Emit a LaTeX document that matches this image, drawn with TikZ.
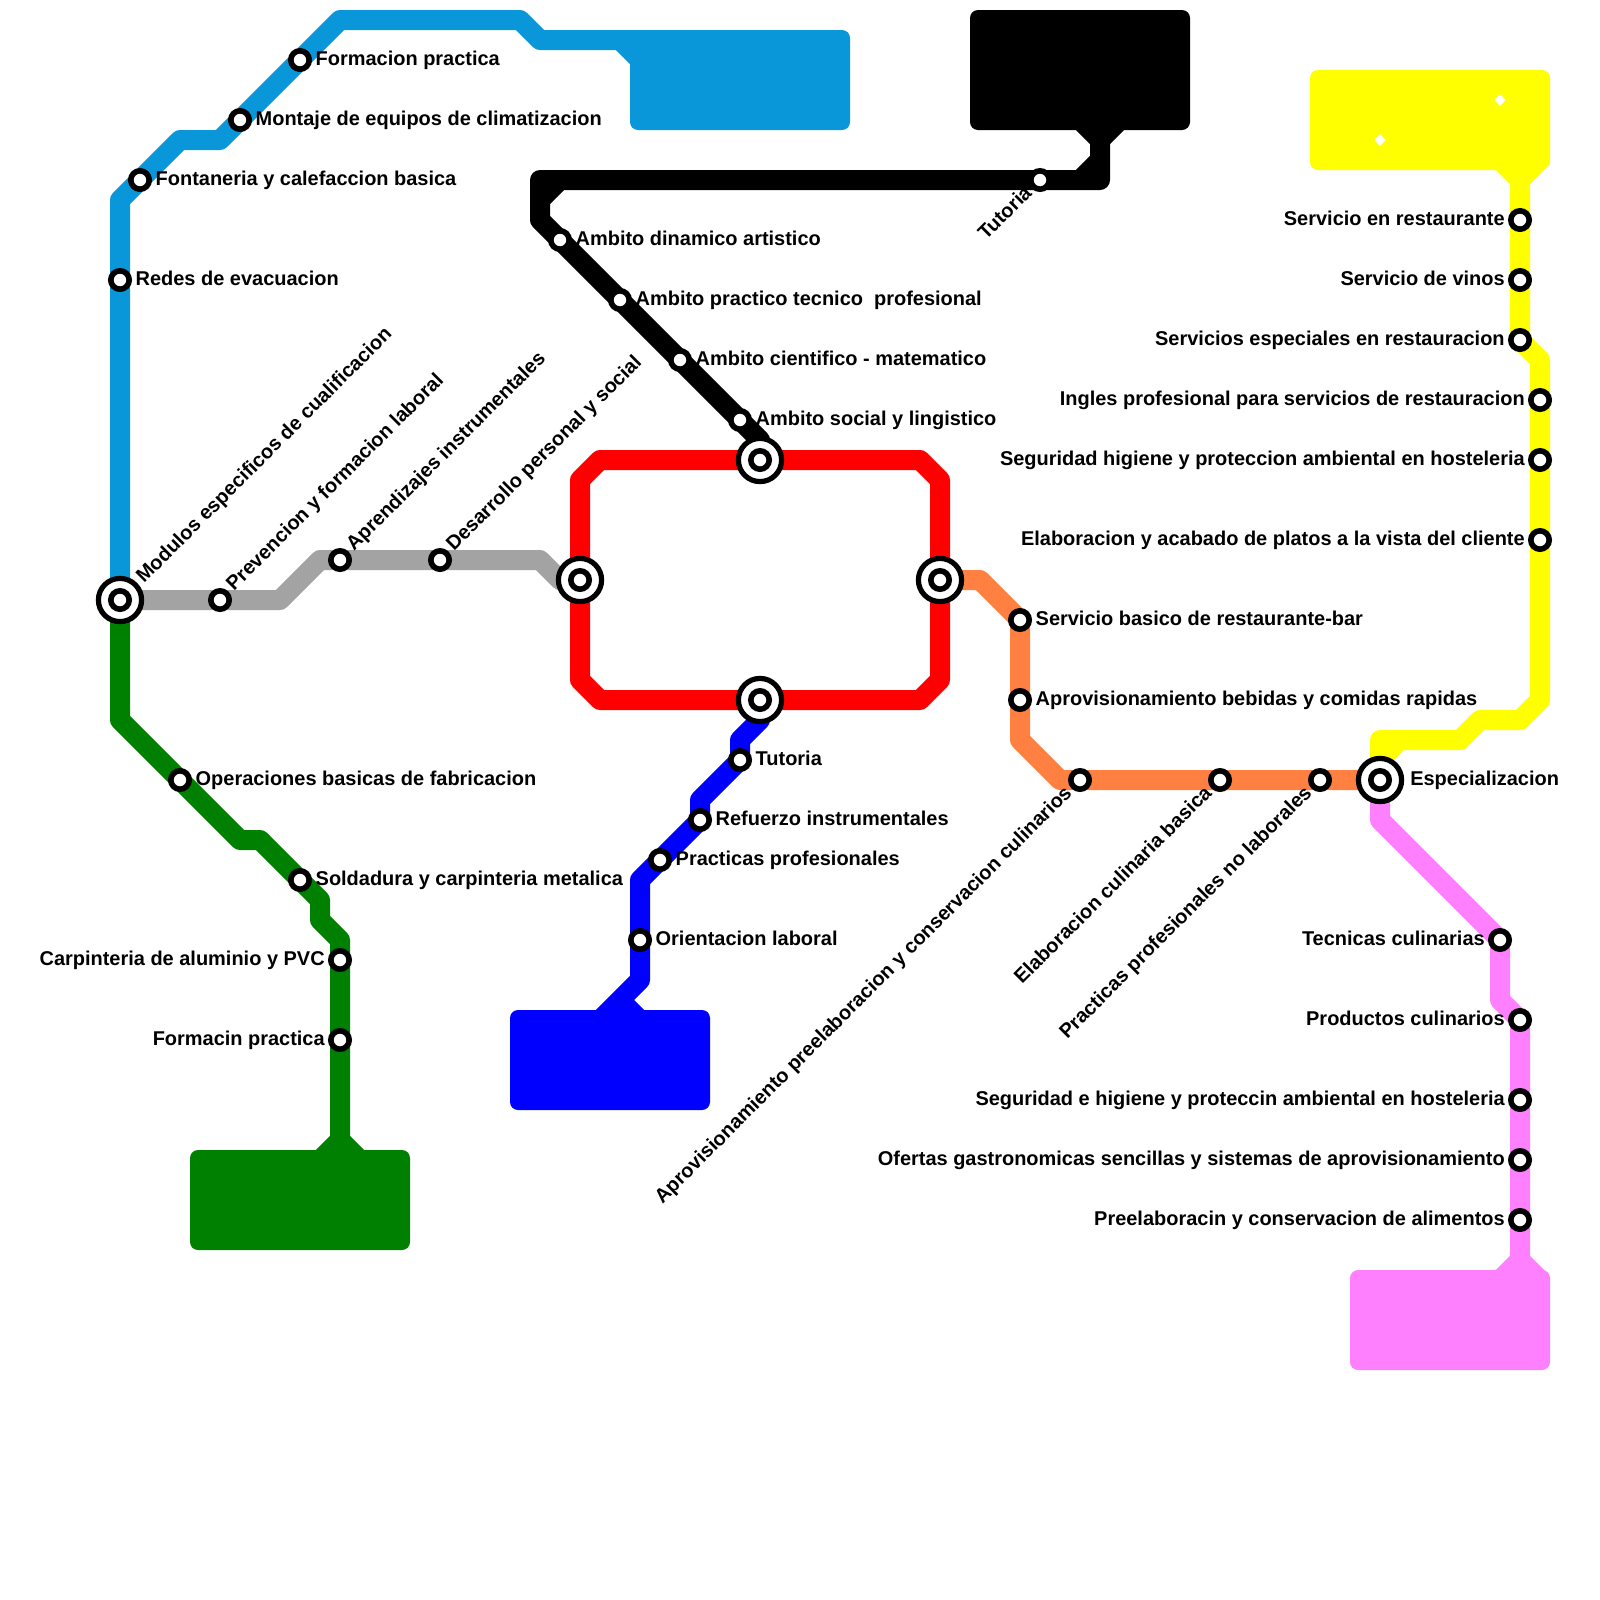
\documentclass[tikz,border=0pt]{standalone}
\usepackage{fontspec}
\setmainfont{Liberation Sans}
\usetikzlibrary{backgrounds}
\definecolor{railcyan}{HTML}{0A97D9}
\definecolor{railgreen}{HTML}{008000}
\definecolor{railgray}{HTML}{A3A3A3}
\definecolor{railorange}{HTML}{FF8040}
\definecolor{railpink}{HTML}{FF80FF}
\definecolor{railyellow}{RGB}{255,255,0}
\begin{document}
\begin{tikzpicture}[x=0.5cm,y=-0.5cm,
  rail/.style={line width=0.5cm, line join=round},
  terminus/.style={rectangle, rounded corners=0.2cm, inner sep=0pt, outer sep=0pt},
  stn/.style={circle, draw=black, fill=white, line width=0.14cm, minimum size=0.46cm, inner sep=0pt, outer sep=0pt},
  hub/.style={circle, draw=black, fill=white, line width=0.13cm, minimum size=1.08cm, inner sep=0pt, outer sep=0pt},
  stnlabel/.style={font=\fontsize{14.2pt}{16pt}\selectfont\bfseries, inner sep=0pt}]
  \useasboundingbox (0,0) rectangle (80,80);
  % enlaces
  \foreach \nm/\x/\y in {modulos/6/30, norte/38/23, oeste/29/29, este/47/29, sur/38/35, espec/69/39} {
    \node[hub] (\nm) at (\x,\y) {};
    \node[stn] (\nm-in) at (\nm.center) {};
  }
  % estaciones con texto a la derecha
  \foreach \nm/\x/\y/\txt in {
    redes/6/14/Redes de evacuacion,
    fontaneria/7/9/Fontaneria y calefaccion basica,
    montaje/12/6/Montaje de equipos de climatizacion,
    formacion/15/3/Formacion practica,
    dinamico/28/12/Ambito dinamico artistico,
    tecnico/31/15/Ambito practico tecnico~ profesional,
    cientifico/34/18/Ambito cientifico - matematico,
    social/37/21/Ambito social y lingistico,
    tutoriasur/37/38/Tutoria,
    refuerzo/35/41/Refuerzo instrumentales,
    practicas/33/43/Practicas profesionales,
    orientacion/32/47/Orientacion laboral,
    operaciones/9/39/Operaciones basicas de fabricacion,
    soldadura/15/44/Soldadura y carpinteria metalica,
    basico/51/31/Servicio basico de restaurante-bar,
    rapidas/51/35/Aprovisionamiento bebidas y comidas rapidas} {
    \node[stn] (\nm) at (\x,\y) {};
    \node[stnlabel, anchor=base west] (\nm-txt) at (\x+.77,\y+.25) {\txt};
  }
  % estaciones con texto a la izquierda
  \foreach \nm/\x/\y/\txt in {
    carpinteria/17/48/Carpinteria de aluminio y PVC,
    formacin/17/52/Formacin practica,
    restaurante/76/11/Servicio en restaurante,
    vinos/76/14/Servicio de vinos,
    especiales/76/17/Servicios especiales en restauracion,
    ingles/77/20/Ingles profesional para servicios de restauracion,
    seguridad/77/23/Seguridad higiene y proteccion ambiental en hosteleria,
    platos/77/27/Elaboracion y acabado de platos a la vista del cliente,
    tecnicas/75/47/Tecnicas culinarias,
    productos/76/51/Productos culinarios,
    higiene/76/55/Seguridad e higiene y proteccin ambiental en hosteleria,
    ofertas/76/58/Ofertas gastronomicas sencillas y sistemas de aprovisionamiento,
    preelab/76/61/Preelaboracin y conservacion de alimentos} {
    \node[stn] (\nm) at (\x,\y) {};
    \node[stnlabel, anchor=base east] (\nm-txt) at (\x-.75,\y+.25) {\txt};
  }
  % texto inclinado hacia arriba
  \foreach \nm/\x/\y/\txt in {
    prevencion/11/30/Prevencion y formacion laboral,
    aprendizajes/17/28/Aprendizajes instrumentales,
    desarrollo/22/28/Desarrollo personal y social} {
    \node[stn] (\nm) at (\x,\y) {};
    \node[stnlabel, anchor=base west, rotate=45] (\nm-txt) at (\x+.7,\y-.4) {\txt};
  }
  \node[stnlabel, anchor=base west, rotate=45] (modulos-txt) at (7.2,29.2) {Modulos especificos de cualificacion};
  % texto inclinado hacia abajo
  \foreach \nm/\x/\y/\txt in {
    tutorianorte/52/9/Tutoria,
    preelaboracion/54/39/Aprovisionamiento preelaboracion y conservacion culinarios,
    culinaria/61/39/Elaboracion culinaria basica,
    nolaborales/66/39/Practicas profesionales no laborales} {
    \node[stn] (\nm) at (\x,\y) {};
    \node[stnlabel, anchor=base east, rotate=45] (\nm-txt) at (\x-.35,\y+.7) {\txt};
  }
  \node[stnlabel, anchor=base west] (espec-txt) at (70.5,39.25) {Especializacion};
  % cabeceras
  \node[terminus, fill=railcyan, minimum width=5.5cm, minimum height=2.5cm] (cabcyan) at (37,4) {};
  \node[terminus, fill=black, minimum width=5.5cm, minimum height=3cm] (cabnegra) at (54,3.5) {};
  \node[terminus, fill=blue, minimum width=5cm, minimum height=2.5cm] (cabazul) at (30.5,53) {};
  \node[terminus, fill=railgreen, minimum width=5.5cm, minimum height=2.5cm] (cabverde) at (15,60) {};
  \node[terminus, fill=railpink, minimum width=5cm, minimum height=2.5cm] (cabrosa) at (72.5,66) {};
  \node[terminus, fill=railyellow, minimum width=6cm, minimum height=2.5cm] (cabamarilla) at (71.5,6) {};
  \fill[white] (77.6,8.1) -- (77.6,8.6) -- (77.1,8.6) -- cycle;
  \fill[white] (75,4.7) -- (75.28,5) -- (75,5.3) -- (74.72,5) -- cycle;
  \fill[white] (69,6.7) -- (69.28,7) -- (69,7.3) -- (68.72,7) -- cycle;
  % lineas
  \begin{scope}[on background layer]
    \draw[rail, railcyan] (modulos.center) -- (6,10) -- (9,7) -- (11,7) -- (17,1) -- (26,1) -- (27,2) -- (32,2);
    \draw[rail, railcyan] (31,2) -- (32,3);
    \draw[rail, railgray] (modulos.center) -- (14,30) -- (16,28) -- (27,28) -- (28,29) -- (oeste.center);
    \draw[rail, railgreen] (modulos.center) -- (6,36) -- (12,42) -- (13,42) -- (16,45) -- (16,46) -- (17,47) -- (17,57) -- (16,58);
    \draw[rail, railgreen] (17,57) -- (18,58);
    \draw[rail, black] (norte.center) -- (38,22) -- (27,11) -- (27,9) -- (55,9) -- (55,7) -- (54,6);
    \draw[rail, black] (55,7) -- (56,6);
    \draw[rail, black] (28,9) -- (27,10);
    \draw[rail, black] (55,8) -- (54,9);
    \draw[rail, blue] (sur.center) -- (38,36) -- (37,37) -- (37,38) -- (35,40) -- (35,41) -- (32,44) -- (32,49) -- (30,51);
    \draw[rail, blue] (31,50) -- (32,51);
    \draw[rail, railorange] (este.center) -- (49,29) -- (51,31) -- (51,37) -- (53,39) -- (espec.center);
    \draw[rail, railyellow] (espec.center) -- (69,37) -- (73,37) -- (74,36) -- (76,36) -- (77,35) -- (77,18) -- (76,17) -- (76,9) -- (75,8);
    \draw[rail, railyellow] (76,9) -- (77,8);
    \draw[rail, railyellow] (70,37) -- (69,38);
    \draw[rail, railpink] (espec.center) -- (69,41) -- (75,47) -- (75,50) -- (76,51) -- (76,63) -- (75,64);
    \draw[rail, railpink] (76,63) -- (77,64);
    \draw[rail, red] (29,24) -- (30,23) -- (46,23) -- (47,24) -- (47,34) -- (46,35) -- (30,35) -- (29,34) -- cycle;
  \end{scope}
\end{tikzpicture}
\end{document}
